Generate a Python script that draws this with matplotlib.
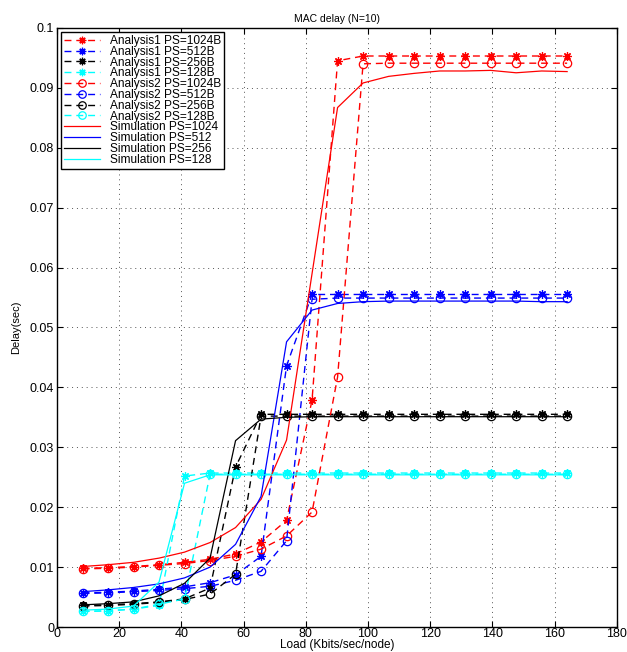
import numpy as np
import matplotlib
matplotlib.use("Agg")
import matplotlib.pyplot as plt

plt.rcParams['font.family'] = ['Liberation Sans', 'DejaVu Sans']

# load points (Kbits/sec/node)
load = [8.2, 16.4, 24.6, 32.8, 41.0, 49.2, 57.4, 65.6, 73.8, 82.0,
        90.2, 98.4, 106.6, 114.8, 123.0, 131.2, 139.4, 147.6, 155.8, 164.0]

# Analysis1
a1_1024 = [0.0098, 0.0099, 0.0101, 0.0104, 0.0108, 0.0113, 0.0122, 0.0142, 0.0178, 0.0379,
           0.0945, 0.0953, 0.0953, 0.0953, 0.0953, 0.0953, 0.0953, 0.0953, 0.0953, 0.0953]
a1_512 = [0.0057, 0.0058, 0.0060, 0.0063, 0.0067, 0.0074, 0.0087, 0.0118, 0.0436, 0.0555,
          0.0555, 0.0555, 0.0555, 0.0555, 0.0555, 0.0555, 0.0555, 0.0555, 0.0555, 0.0555]
a1_256 = [0.0036, 0.0037, 0.0039, 0.0042, 0.0047, 0.0065, 0.0267, 0.0355, 0.0355, 0.0355,
          0.0355, 0.0355, 0.0355, 0.0355, 0.0355, 0.0355, 0.0355, 0.0355, 0.0355, 0.0355]
a1_128 = [0.0026, 0.0027, 0.0030, 0.0036, 0.0252, 0.0257, 0.0257, 0.0257, 0.0257, 0.0257,
          0.0257, 0.0257, 0.0257, 0.0257, 0.0257, 0.0257, 0.0257, 0.0257, 0.0257, 0.0257]

# Analysis2
a2_1024 = [0.0097, 0.0098, 0.0100, 0.0103, 0.0106, 0.0111, 0.0118, 0.0130, 0.0152, 0.0192,
           0.0417, 0.0940, 0.0941, 0.0941, 0.0941, 0.0941, 0.0941, 0.0941, 0.0941, 0.0941]
a2_512 = [0.0056, 0.0057, 0.0059, 0.0061, 0.0064, 0.0068, 0.0078, 0.0093, 0.0144, 0.0547,
          0.0549, 0.0549, 0.0549, 0.0549, 0.0549, 0.0549, 0.0549, 0.0549, 0.0549, 0.0549]
a2_256 = [0.0035, 0.0036, 0.0038, 0.0041, 0.0046, 0.0055, 0.0088, 0.0352, 0.0352, 0.0352,
          0.0352, 0.0352, 0.0352, 0.0352, 0.0352, 0.0352, 0.0352, 0.0352, 0.0352, 0.0352]
a2_128 = [0.0026, 0.0027, 0.0030, 0.0038, 0.0047, 0.0255, 0.0255, 0.0255, 0.0255, 0.0255,
          0.0255, 0.0255, 0.0255, 0.0255, 0.0255, 0.0255, 0.0255, 0.0255, 0.0255, 0.0255]

# Simulation
sim_1024 = [0.0101, 0.0104, 0.0108, 0.0115, 0.0125, 0.0141, 0.0166, 0.0213, 0.0312, 0.0590,
            0.0867, 0.0908, 0.0919, 0.0924, 0.0928, 0.0928, 0.0929, 0.0925, 0.0928, 0.0927]
sim_512 = [0.0059, 0.0062, 0.0066, 0.0072, 0.0082, 0.0100, 0.0138, 0.0218, 0.0476, 0.0529,
           0.0540, 0.0543, 0.0544, 0.0544, 0.0544, 0.0544, 0.0544, 0.0544, 0.0543, 0.0543]
sim_256 = [0.0037, 0.0039, 0.0042, 0.0052, 0.0073, 0.0115, 0.0311, 0.0347, 0.0350, 0.0351,
           0.0351, 0.0351, 0.0351, 0.0351, 0.0351, 0.0351, 0.0351, 0.0351, 0.0351, 0.0351]
sim_128 = [0.0028, 0.0030, 0.0035, 0.0075, 0.0240, 0.0254, 0.0254, 0.0254, 0.0254, 0.0254,
           0.0254, 0.0254, 0.0254, 0.0254, 0.0254, 0.0254, 0.0254, 0.0254, 0.0254, 0.0254]

sizes = ['1024', '512', '256', '128']
colors = ['#ff0000', '#0000ff', '#000000', '#00ffff']
analysis1 = [a1_1024, a1_512, a1_256, a1_128]
analysis2 = [a2_1024, a2_512, a2_256, a2_128]
simulation = [sim_1024, sim_512, sim_256, sim_128]

fig = plt.figure(figsize=(6.27, 6.52), dpi=100)
ax = fig.add_axes([0.0909, 0.0383, 0.893, 0.919])

star = (8, 2, 0)
for s, c, y in zip(sizes, colors, analysis1):
    ax.plot(load, y, '--', color=c, marker=star, markersize=6, markeredgewidth=0.9,
            linewidth=1, dashes=(5, 3.5), label='Analysis1 PS=' + s + 'B')
for s, c, y in zip(sizes, colors, analysis2):
    ax.plot(load, y, '--', color=c, marker='o', markersize=6, markerfacecolor='none',
            markeredgewidth=0.9, linewidth=1, dashes=(5, 3.5), label='Analysis2 PS=' + s + 'B')
for s, c, y in zip(sizes, colors, simulation):
    ax.plot(load, y, '-', color=c, linewidth=0.9, label='Simulation PS=' + s)

ax.set_xlim(0, 180)
ax.set_ylim(0, 0.1)
ax.set_xticks(np.arange(0, 181, 20))
ax.set_yticks(np.arange(0, 0.1001, 0.01))
ax.set_yticklabels(['0', '0.01', '0.02', '0.03', '0.04', '0.05', '0.06', '0.07', '0.08', '0.09', '0.1'])
ax.grid(True, linestyle=(0, (1, 4)), color='#555555', linewidth=0.7)
ax.tick_params(direction='in', top=True, right=True, labelsize=9, length=4, width=0.8, pad=2)
ax.tick_params(axis='x', pad=1)
for sp in ax.spines.values():
    sp.set_linewidth(1)

ax.set_title('MAC delay (N=10)', fontsize=7.5, pad=4)
ax.set_xlabel('Load (Kbits/sec/node)', fontsize=8.5, labelpad=-1)
ax.set_ylabel('Delay(sec)', fontsize=8, labelpad=6)

leg = ax.legend(loc='upper left', fontsize=8.6, frameon=True, fancybox=False,
                edgecolor='k', framealpha=1, borderaxespad=0.35, labelspacing=-0.1,
                handlelength=3.0, handletextpad=0.8, borderpad=0.25, markerscale=0.9)
leg.get_frame().set_linewidth(1)

fig.savefig('out.png', dpi=100)
